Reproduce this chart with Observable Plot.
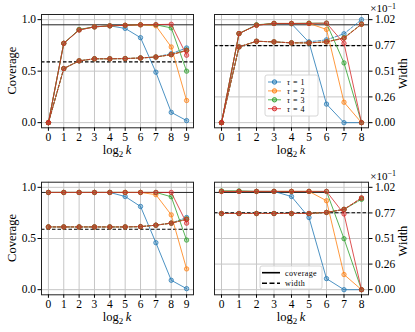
<!DOCTYPE html>
<html><head><meta charset="utf-8">
<script src="https://cdn.jsdelivr.net/npm/d3@7"></script>
<script src="https://cdn.jsdelivr.net/npm/@observablehq/plot@0.6"></script>
<style>
body{margin:0;background:#fff}
#fig{position:relative;width:415px;height:332px;font-family:"Liberation Serif",serif;overflow:hidden}
#fig svg{position:absolute}
</style></head><body><div id="fig"></div>
<script>
// ---------- data ----------
const tauLabels = ["\u03c4 = 1", "\u03c4 = 2", "\u03c4 = 3", "\u03c4 = 4"];
const seriesColors = ["#1f77b4", "#ff7f0e", "#2ca02c", "#d62728"];
const styleLabels = ["coverage", "width"];
const k9 = [0, 1, 2, 3, 4, 5, 6, 7, 8, 9];
const k8 = [0, 1, 2, 3, 4, 5, 6, 7, 8];
const covTicks = [0, 0.5, 1.0];
const widthTickLabels = ["0.00", "0.26", "0.51", "0.77", "1.02"];
const widthTop = 1.02;
const covTarget = 0.95;

// top-left (coverage axis)
const tlCov1 = [0, 0.77, 0.90, 0.93, 0.94, 0.915, 0.825, 0.49, 0.10, 0.02];
const tlCov2 = [0, 0.77, 0.90, 0.93, 0.94, 0.945, 0.95, 0.94, 0.735, 0.215];
const tlCov3 = [0, 0.77, 0.905, 0.93, 0.94, 0.945, 0.95, 0.95, 0.92, 0.50];
const tlCov4 = [0, 0.77, 0.90, 0.93, 0.94, 0.945, 0.95, 0.952, 0.955, 0.655];
const tlWid1 = [0, 0.525, 0.60, 0.62, 0.62, 0.622, 0.628, 0.637, 0.67, 0.725];
const tlWid2 = [0, 0.525, 0.60, 0.62, 0.62, 0.622, 0.628, 0.637, 0.66, 0.70];
const tlWid3 = [0, 0.525, 0.60, 0.62, 0.62, 0.622, 0.628, 0.637, 0.66, 0.705];
const tlWid4 = [0, 0.525, 0.60, 0.62, 0.62, 0.622, 0.628, 0.637, 0.66, 0.70];
const tlWidRef = 0.59;

// top-right (width in units of 1e-1)
const trCov1 = [0, 0.865, 0.946, 0.963, 0.96, 0.78, 0.18, 0, 0];
const trCov2 = [0, 0.865, 0.946, 0.963, 0.963, 0.963, 0.905, 0.198, 0];
const trCov3 = [0, 0.865, 0.95, 0.963, 0.963, 0.966, 0.966, 0.58, 0];
const trCov4 = [0, 0.865, 0.946, 0.963, 0.963, 0.963, 0.966, 0.77, 0];
const trWid1 = [0, 0.75, 0.806, 0.80, 0.79, 0.80, 0.82, 0.88, 1.02];
const trWid2 = [0, 0.75, 0.806, 0.80, 0.79, 0.79, 0.80, 0.84, 0.975];
const trWid3 = [0, 0.75, 0.806, 0.80, 0.79, 0.79, 0.80, 0.84, 0.975];
const trWid4 = [0, 0.75, 0.806, 0.80, 0.79, 0.79, 0.80, 0.835, 0.975];
const trWidRef = 0.763;

// bottom-left (coverage axis)
const blCov1 = [0.95, 0.95, 0.95, 0.95, 0.95, 0.91, 0.813, 0.459, 0.092, 0.01];
const blCov2 = [0.95, 0.95, 0.95, 0.95, 0.95, 0.95, 0.95, 0.928, 0.731, 0.203];
const blCov3 = [0.95, 0.95, 0.95, 0.95, 0.95, 0.95, 0.95, 0.95, 0.908, 0.485];
const blCov4 = [0.95, 0.95, 0.95, 0.95, 0.95, 0.95, 0.95, 0.95, 0.95, 0.65];
const blWid1 = [0.613, 0.613, 0.613, 0.613, 0.613, 0.613, 0.616, 0.63, 0.65, 0.705];
const blWid2 = [0.613, 0.613, 0.613, 0.613, 0.613, 0.613, 0.616, 0.63, 0.65, 0.69];
const blWid3 = [0.613, 0.613, 0.613, 0.613, 0.613, 0.613, 0.616, 0.63, 0.65, 0.69];
const blWid4 = [0.613, 0.613, 0.613, 0.613, 0.613, 0.613, 0.616, 0.63, 0.65, 0.685];
const blWidRef = 0.59;

// bottom-right (width in units of 1e-1)
const brCov1 = [0.96, 0.96, 0.96, 0.96, 0.91, 0.705, 0.108, 0, 0];
const brCov2 = [0.96, 0.96, 0.96, 0.96, 0.96, 0.96, 0.869, 0.148, 0];
const brCov3 = [0.965, 0.965, 0.96, 0.96, 0.96, 0.96, 0.96, 0.498, 0];
const brCov4 = [0.96, 0.96, 0.96, 0.96, 0.96, 0.96, 0.96, 0.74, 0];
const brWid1 = [0.759, 0.759, 0.759, 0.759, 0.759, 0.759, 0.77, 0.80, 0.913];
const brWid2 = [0.759, 0.759, 0.759, 0.759, 0.759, 0.759, 0.77, 0.80, 0.913];
const brWid3 = [0.759, 0.759, 0.759, 0.759, 0.759, 0.759, 0.77, 0.80, 0.90];
const brWid4 = [0.759, 0.759, 0.759, 0.759, 0.759, 0.759, 0.77, 0.80, 0.913];
const brWidRef = 0.766;

// ---------- drawing ----------
const fig = d3.select("#fig");
const FONT = "Liberation Serif";

function panel(cfg) {
  const {left, top, width, height, mL, mR, mT, mB, xs, cov, wid, widRef, right, legend} = cfg;
  const scale = right ? widthTop : 1;
  const n = xs[xs.length - 1] - xs[0];
  const marks = [];
  marks.push(Plot.gridX(xs, {stroke: "#c6c6c6", strokeOpacity: 1, strokeWidth: 1}));
  const gy = right ? widthTickLabels.map((_, i) => i / 4) : covTicks;
  marks.push(Plot.gridY(gy, {stroke: "#c6c6c6", strokeOpacity: 1, strokeWidth: 1}));
  marks.push(Plot.ruleY([covTarget], {stroke: "#222", strokeWidth: 1}));
  marks.push(Plot.ruleY([widRef / scale], {stroke: "#000", strokeWidth: 1.1, strokeDasharray: "3.5,2"}));
  for (let s = 0; s < 4; s++) {
    const c = seriesColors[s];
    const wr = xs.map((x, j) => ({x, y: wid[s][j] / scale}));
    const cr = xs.map((x, j) => ({x, y: cov[s][j]}));
    marks.push(Plot.line(wr, {x: "x", y: "y", stroke: c, strokeWidth: 1, strokeOpacity: 0.8, strokeDasharray: "3,1.5"}));
    marks.push(Plot.dot(wr, {x: "x", y: "y", r: 2.2, fill: c, fillOpacity: 0.35, stroke: c, strokeOpacity: 0.8, strokeWidth: 0.9}));
    marks.push(Plot.line(cr, {x: "x", y: "y", stroke: c, strokeWidth: 1, strokeOpacity: 0.8}));
    marks.push(Plot.dot(cr, {x: "x", y: "y", r: 2.2, fill: c, fillOpacity: 0.35, stroke: c, strokeOpacity: 0.8, strokeWidth: 0.9}));
  }
  marks.push(Plot.frame({stroke: "#222", strokeWidth: 1}));
  marks.push(Plot.axisX(xs, {tickSize: 3.5, tickPadding: 1.5, label: null, fontSize: 11.5, tickFormat: d => String(d)}));
  if (!right) {
    marks.push(Plot.axisY(covTicks, {tickSize: 3.5, tickPadding: 2, label: null, fontSize: 11.5, tickFormat: d => d.toFixed(1)}));
  } else {
    marks.push(Plot.axisY(gy, {anchor: "right", tickSize: 3.5, tickPadding: 3, label: null, fontSize: 11.5,
      tickFormat: d => widthTickLabels[Math.round(d * 4)]}));
  }
  const svgNode = Plot.plot({
    width, height,
    marginLeft: mL, marginRight: mR, marginTop: mT, marginBottom: mB,
    x: {domain: [xs[0] - 0.05 * n, xs[xs.length - 1] + 0.05 * n]},
    y: {domain: [-0.05, 1.05]},
    style: {fontFamily: FONT, fontSize: "12px", background: "transparent", overflow: "visible"},
    marks
  });
  svgNode.style.left = left + "px";
  svgNode.style.top = top + "px";
  fig.node().appendChild(svgNode);
  const svg = d3.select(svgNode);
  const cx = mL + (width - mL - mR) / 2;
  const cy = mT + (height - mT - mB) / 2;
  // x label: log_2 k
  const xl = svg.append("text").attr("x", cx).attr("y", height - mB + 27)
    .attr("text-anchor", "middle").attr("font-family", FONT).attr("font-size", 12.5).attr("fill", "#000");
  xl.append("tspan").text("log");
  xl.append("tspan").attr("dy", 3).attr("font-size", 9).text("2");
  xl.append("tspan").attr("dy", -3).text("\u2009");
  xl.append("tspan").attr("font-style", "italic").text("k");
  if (!right) {
    svg.append("text").attr("transform", `translate(16,${cy}) rotate(-90)`)
      .attr("text-anchor", "middle").attr("font-family", FONT).attr("font-size", 12.5).attr("fill", "#000")
      .text("Coverage");
  } else {
    svg.append("text").attr("transform", `translate(200,${cy + 3}) rotate(-90)`)
      .attr("text-anchor", "middle").attr("font-family", FONT).attr("font-size", 12.5).attr("fill", "#000")
      .text("Width");
    const off = svg.append("text").attr("x", 189).attr("y", mT - 2).attr("text-anchor", "end")
      .attr("font-family", FONT).attr("font-size", 11).attr("fill", "#000");
    off.append("tspan").text("\u00d710");
    off.append("tspan").attr("dy", -3.5).attr("font-size", 8).text("\u22121");
  }
  if (legend === "tau") {
    const g = svg.append("g").attr("text-anchor", "start");
    g.append("rect").attr("x", 58).attr("y", 75).attr("width", 53).attr("height", 41)
      .attr("rx", 2).attr("fill", "#fff").attr("fill-opacity", 0.8).attr("stroke", "#cccccc").attr("stroke-width", 0.8);
    tauLabels.forEach((lab, i) => {
      const y = 82 + i * 8.9;
      const c = seriesColors[i];
      g.append("line").attr("x1", 61).attr("x2", 74).attr("y1", y).attr("y2", y)
        .attr("stroke", c).attr("stroke-width", 1).attr("stroke-opacity", 0.8);
      g.append("circle").attr("cx", 67.5).attr("cy", y).attr("r", 2.2)
        .attr("fill", c).attr("fill-opacity", 0.35).attr("stroke", c).attr("stroke-width", 0.9);
      const t = g.append("text").attr("x", 80).attr("y", y + 2.8).attr("font-family", FONT)
        .attr("text-anchor", "start").attr("font-size", 8).attr("fill", "#000");
      const parts = lab.split(" ");
      t.append("tspan").attr("font-style", "italic").text(parts[0]);
      t.append("tspan").attr("dx", 3).text(parts[1]);
      t.append("tspan").attr("dx", 3).text(parts[2]);
    });
  } else if (legend === "style") {
    const g = svg.append("g").attr("text-anchor", "start");
    g.append("rect").attr("x", 53).attr("y", 100).attr("width", 62).attr("height", 23)
      .attr("rx", 2).attr("fill", "#fff").attr("fill-opacity", 0.8).attr("stroke", "#cccccc").attr("stroke-width", 0.8);
    styleLabels.forEach((lab, i) => {
      const y = 106.7 + i * 10.6;
      g.append("line").attr("x1", 55).attr("x2", 73).attr("y1", y).attr("y2", y)
        .attr("stroke", "#000").attr("stroke-width", 1.6)
        .attr("stroke-dasharray", i === 1 ? "5,2.5" : null);
      g.append("text").attr("x", 78).attr("y", y + 2.8).attr("font-family", FONT)
        .attr("text-anchor", "start").attr("font-size", 8).attr("letter-spacing", 0.4).attr("fill", "#000").text(lab);
    });
  }
}

panel({left: 0, top: 0, width: 207, height: 166, mL: 41, mR: 14, mT: 14, mB: 38.7, xs: k9,
  cov: [tlCov1, tlCov2, tlCov3, tlCov4], wid: [tlWid1, tlWid2, tlWid3, tlWid4], widRef: tlWidRef, right: false});
panel({left: 207, top: 0, width: 208, height: 166, mL: 7, mR: 47, mT: 14, mB: 38.7, xs: k8,
  cov: [trCov1, trCov2, trCov3, trCov4], wid: [trWid1, trWid2, trWid3, trWid4], widRef: trWidRef, right: true, legend: "tau"});
panel({left: 0, top: 166, width: 207, height: 166, mL: 41, mR: 14, mT: 15.7, mB: 37.7, xs: k9,
  cov: [blCov1, blCov2, blCov3, blCov4], wid: [blWid1, blWid2, blWid3, blWid4], widRef: blWidRef, right: false});
panel({left: 207, top: 166, width: 208, height: 166, mL: 7, mR: 47, mT: 15.7, mB: 37.7, xs: k8,
  cov: [brCov1, brCov2, brCov3, brCov4], wid: [brWid1, brWid2, brWid3, brWid4], widRef: brWidRef, right: true, legend: "style"});
</script>
</body></html>
